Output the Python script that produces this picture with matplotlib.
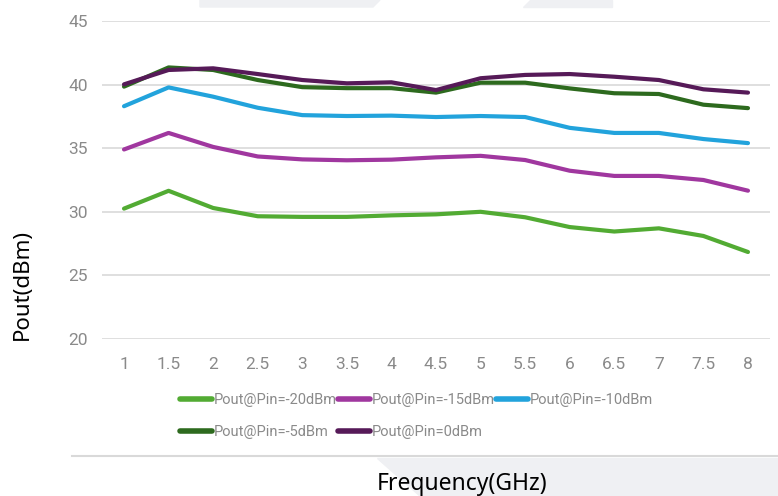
import matplotlib
matplotlib.use("Agg")
import matplotlib.pyplot as plt
from matplotlib.patches import Polygon
from matplotlib.lines import Line2D

freq = [1, 1.5, 2, 2.5, 3, 3.5, 4, 4.5, 5, 5.5, 6, 6.5, 7, 7.5, 8]
xtick_labels = ["1", "1.5", "2", "2.5", "3", "3.5", "4", "4.5", "5", "5.5", "6", "6.5", "7", "7.5", "8"]
yticks = [20, 25, 30, 35, 40, 45]

pout_m20 = [30.25, 31.65, 30.3, 29.65, 29.6, 29.6, 29.72, 29.8, 30.0, 29.57, 28.8, 28.45, 28.7, 28.1, 26.84]
pout_m15 = [34.9, 36.2, 35.1, 34.35, 34.12, 34.05, 34.1, 34.28, 34.4, 34.07, 33.23, 32.82, 32.82, 32.5, 31.66]
pout_m10 = [38.3, 39.78, 39.05, 38.18, 37.6, 37.53, 37.56, 37.45, 37.53, 37.45, 36.6, 36.2, 36.2, 35.72, 35.4]
pout_m5 = [39.84, 41.35, 41.15, 40.36, 39.8, 39.72, 39.72, 39.37, 40.15, 40.15, 39.7, 39.32, 39.26, 38.42, 38.15]
pout_0 = [40.02, 41.15, 41.28, 40.83, 40.36, 40.1, 40.18, 39.57, 40.5, 40.76, 40.83, 40.62, 40.36, 39.63, 39.37]

series = [
    ("Pout@Pin=-20dBm", pout_m20, "#52ab33"),
    ("Pout@Pin=-15dBm", pout_m15, "#a0379f"),
    ("Pout@Pin=-10dBm", pout_m10, "#22a3dc"),
    ("Pout@Pin=-5dBm", pout_m5, "#2d6a1e"),
    ("Pout@Pin=0dBm", pout_0, "#561a58"),
]

W, H = 778, 496
fig = plt.figure(figsize=(W / 100, H / 100), dpi=100)

# faint background decorations
bg = "#eff0f3"
fig.patches.append(Polygon([[200 / W, 1], [380 / W, 1], [373 / W, 1 - 7 / H], [200 / W, 1 - 7 / H]],
                           closed=True, transform=fig.transFigure, color=bg, zorder=0))
fig.patches.append(Polygon([[530 / W, 1], [612 / W, 1], [612 / W, 1 - 7 / H], [523 / W, 1 - 7 / H]],
                           closed=True, transform=fig.transFigure, color=bg, zorder=0))
fig.patches.append(Polygon([[377 / W, 1 - 458 / H], [1, 1 - 458 / H], [1, 0], [420 / W, 0]],
                           closed=True, transform=fig.transFigure, color=bg, zorder=0))
fig.lines.append(Line2D([72 / W, 1], [1 - 456 / H, 1 - 456 / H], transform=fig.transFigure,
                        color="#d9d9d9", lw=1.5))

ax = fig.add_axes([102 / W, 1 - 339 / H, (770 - 102) / W, (339 - 21) / H])
ax.set_facecolor("none")

lines = {}
for label, vals, col in series:
    (ln,) = ax.plot(freq, vals, color=col, lw=3.0, label=label, solid_capstyle="round", zorder=3)
    lines[label] = ln

tick_font = ["Roboto", "DejaVu Sans"]
tick_col = "#8a8a8a"
ax.set_xlim(0.753, 8.247)
ax.set_ylim(20, 45)
ax.set_yticks(yticks)
ax.set_xticks(freq)
ax.set_xticklabels(xtick_labels)
ax.grid(axis="y", color="#d9d9d9", lw=1.2)
ax.set_axisbelow(True)
for s in ax.spines.values():
    s.set_visible(False)
ax.tick_params(length=0, colors=tick_col, labelsize=12.5)
ax.tick_params(axis="y", pad=10)
ax.tick_params(axis="x", pad=13)
for t in ax.get_xticklabels() + ax.get_yticklabels():
    t.set_fontfamily(tick_font)
    t.set_color(tick_col)

order = ["Pout@Pin=-20dBm", "Pout@Pin=-5dBm", "Pout@Pin=-15dBm", "Pout@Pin=0dBm", "Pout@Pin=-10dBm"]
leg = fig.legend([lines[k] for k in order], order, ncol=3, loc="center left",
                 bbox_to_anchor=(180 / W, 1 - 416 / H), frameon=False, borderpad=0, borderaxespad=0,
                 prop={"family": tick_font, "size": 10.5},
                 handlelength=2.2, handletextpad=0.1, columnspacing=0.1, labelspacing=1.2)
for t in leg.get_texts():
    t.set_color(tick_col)
for h in leg.get_lines():
    h.set_linewidth(4)

fig.text(22 / W, 1 - 285 / H, "Pout(dBm)", rotation=90, ha="center", va="center",
         fontsize=16, family=["Noto Sans", "DejaVu Sans"], color="black")
fig.text(462 / W, 1 - 484 / H, "Frequency(GHz)", ha="center", va="center",
         fontsize=16.5, family=["Noto Sans", "DejaVu Sans"], color="black")

fig.savefig("out.png", dpi=100)
